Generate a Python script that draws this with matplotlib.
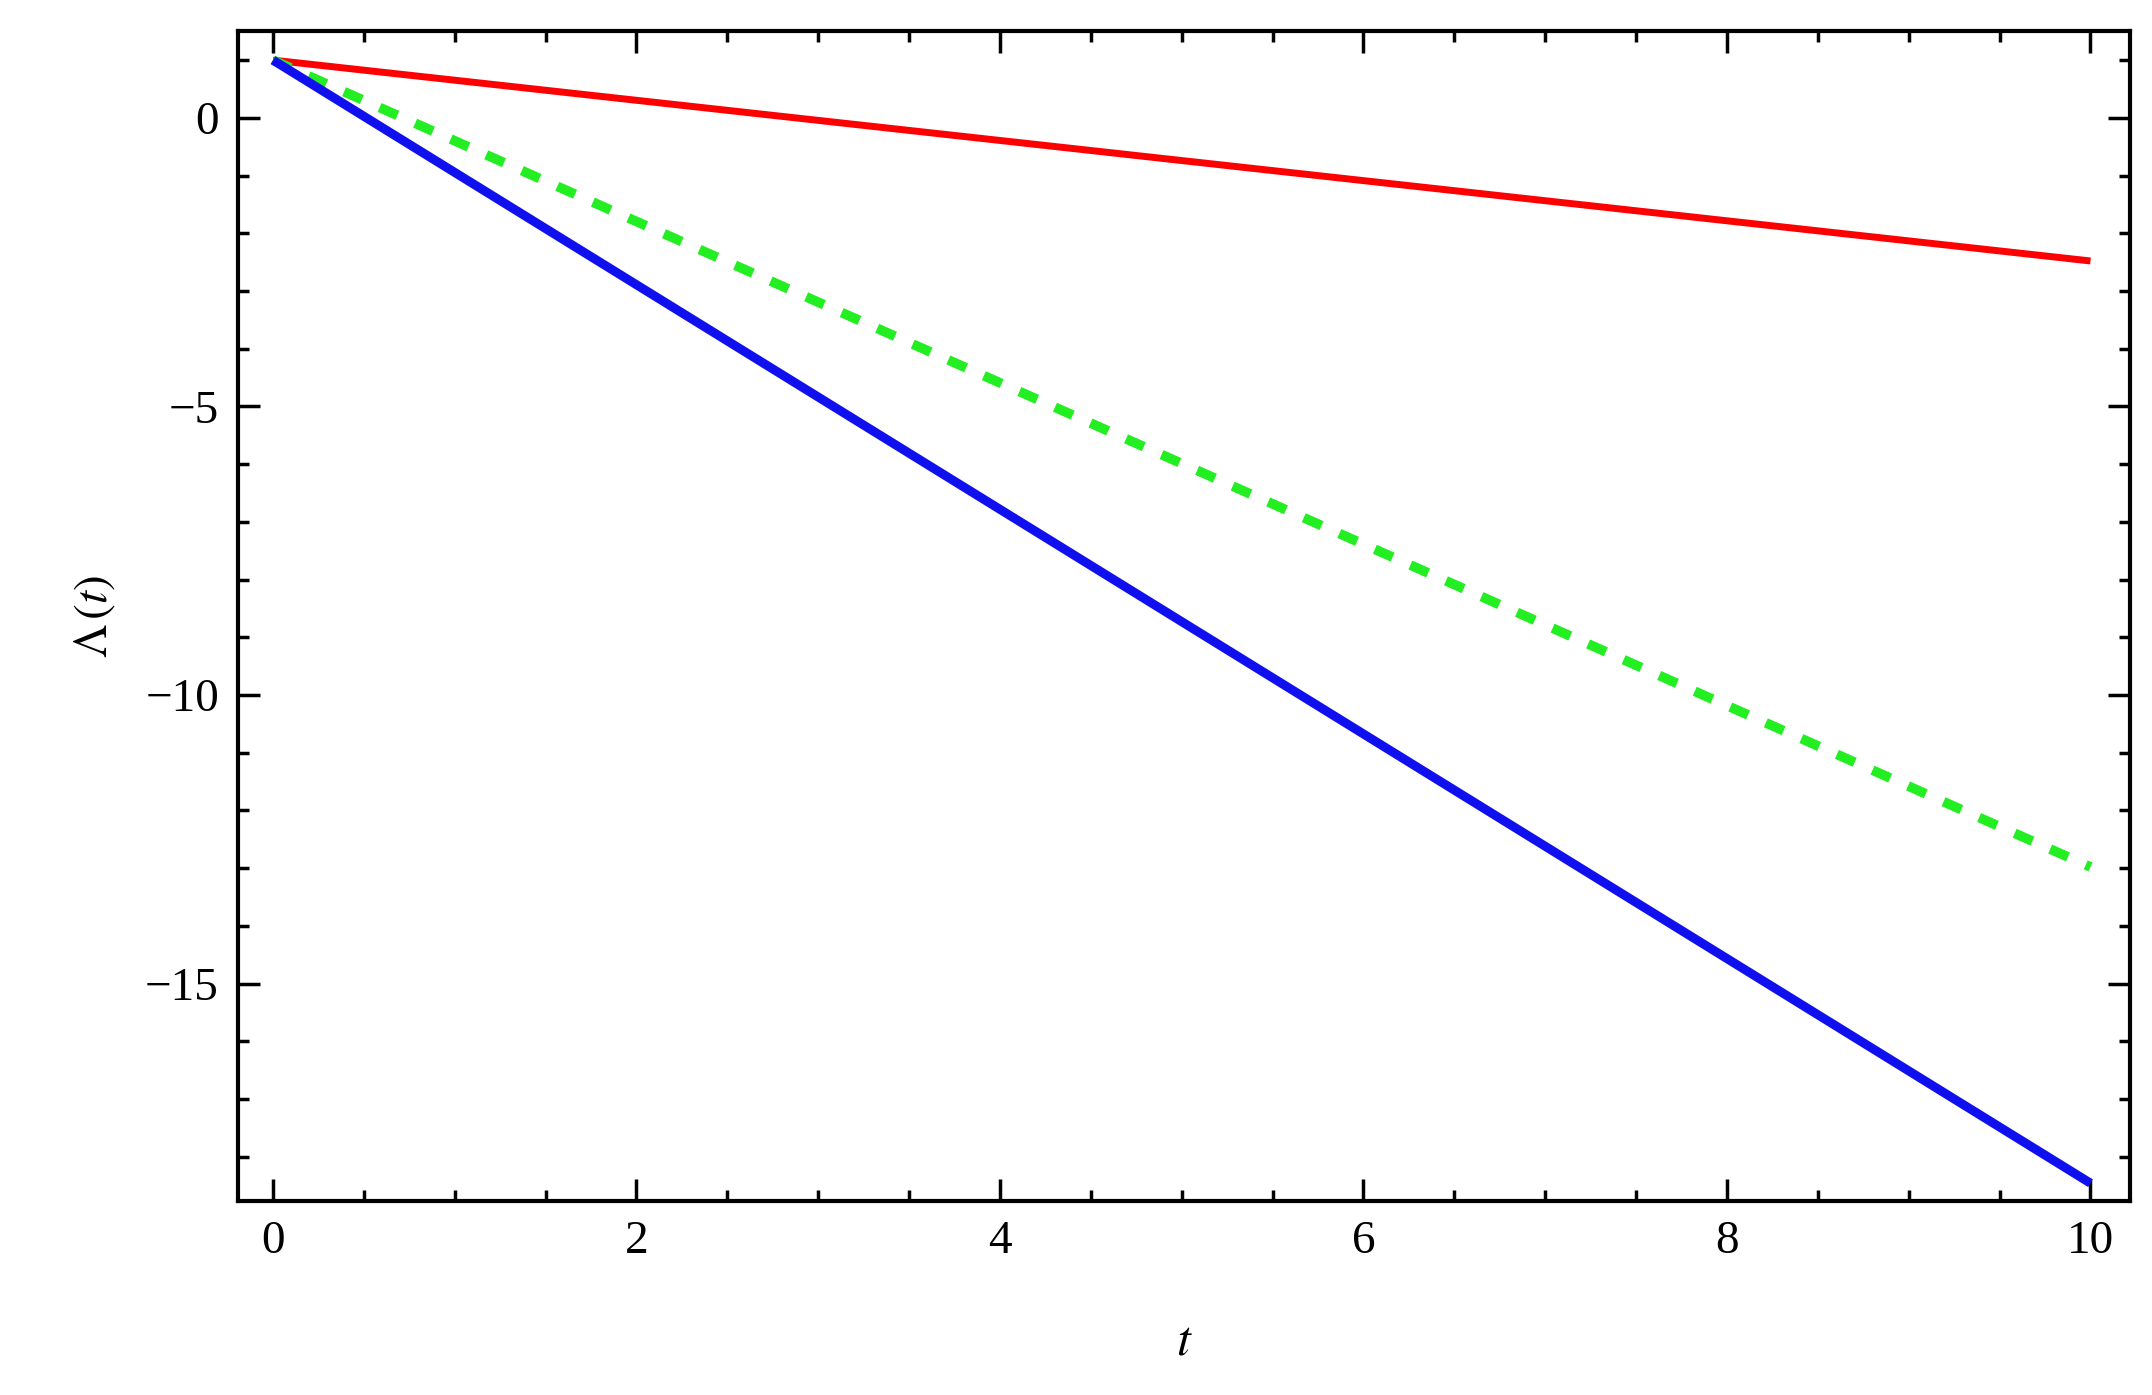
import matplotlib
matplotlib.use("Agg")
import matplotlib.pyplot as plt
from matplotlib.ticker import MultipleLocator

t = [0, 10]
red_vals = [1.0, -2.48]
green_vals = [1.0, -12.98]
blue_vals = [1.0, -18.46]

plt.rcParams['font.family'] = ['Liberation Serif', 'DejaVu Serif']
plt.rcParams['mathtext.fontset'] = 'stix'
fig = plt.figure(figsize=(21.52, 13.95), dpi=100)
ax = fig.add_axes([0.1108, 0.139, 0.8792, 0.839])
ax.plot(t, red_vals, color='#ff0000', lw=5, solid_capstyle='butt')
ax.plot(t, green_vals, color='#22ee22', lw=7, ls=(0, (2, 2)))
ax.plot(t, blue_vals, color='#1010ee', lw=6.5, solid_capstyle='butt')
ax.set_xlim(-0.19, 10.22)
ax.set_ylim(-18.77, 1.51)
ax.xaxis.set_major_locator(MultipleLocator(2))
ax.xaxis.set_minor_locator(MultipleLocator(0.5))
ax.yaxis.set_major_locator(MultipleLocator(5))
ax.yaxis.set_minor_locator(MultipleLocator(1))
ax.tick_params(which='both', direction='in', top=True, right=True, labelsize=34, width=2.5)
ax.tick_params(which='major', length=16, pad=14)
ax.tick_params(which='minor', length=8)
for s in ax.spines.values():
    s.set_linewidth(3)
ax.set_xticklabels([])
ax.xaxis.set_major_formatter(plt.FuncFormatter(lambda v, p: f"{v:.0f}"))
ax.yaxis.set_major_formatter(plt.FuncFormatter(lambda v, p: f"{v:.0f}".replace('-', '\u2212')))
ax.set_xlabel(r'$t$', fontsize=36, labelpad=40)
ax.set_ylabel(r'$\Lambda\,(t)$', fontsize=34, labelpad=20)
fig.savefig('out.png', dpi=100)
